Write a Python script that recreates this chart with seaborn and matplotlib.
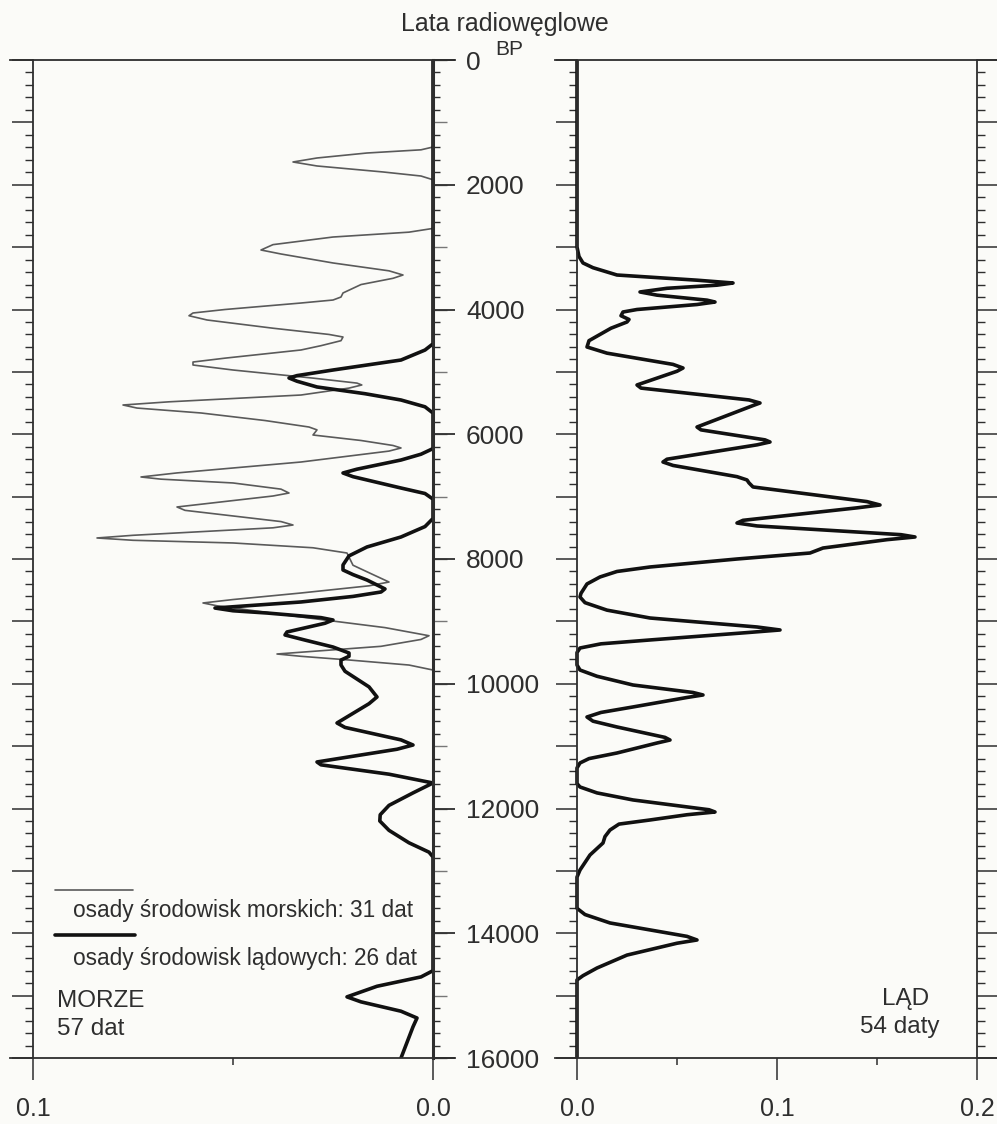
import matplotlib
matplotlib.use("Agg")
import matplotlib.pyplot as plt
from matplotlib.ticker import MultipleLocator, FixedLocator, FormatStrFormatter, NullFormatter
from matplotlib.lines import Line2D
import seaborn as sns

## Data: age in radiocarbon years BP and density value

# MORZE panel, thin curve: osady środowisk morskich (31 dat)
morskie_lata = [0, 1395, 1440, 1491, 1571, 1635, 1699, 1795, 1860, 1920,
                2700, 2760, 2838, 2960, 3046, 3110, 3254, 3380, 3447, 3500, 3600, 3735,
                3800, 3848, 3896, 4000, 4056, 4100, 4168, 4300, 4400, 4441, 4500, 4580,
                4649, 4780, 4842, 4890, 4970, 5100, 5180, 5210, 5260, 5371, 5480, 5531,
                5580, 5659, 5780, 5884, 5930, 6012, 6100, 6180, 6220, 6270, 6445, 6620,
                6685, 6720, 6781, 6880, 6942, 6990, 7166, 7220, 7400, 7455, 7500, 7620,
                7663, 7700, 7743, 7820, 7904, 8100, 8250, 8369, 8430, 8545, 8650, 8705,
                8750, 8930, 9100, 9230, 9290, 9400, 9523, 9560, 9619, 9700, 9780, 16000]
morskie_val = [0, 0, 0.003, 0.0165, 0.029, 0.035, 0.029, 0.0125, 0.003, 0,
               0, 0.006, 0.025, 0.040, 0.043, 0.038, 0.025, 0.011, 0.0075, 0.010, 0.018, 0.0225,
               0.023, 0.025, 0.033, 0.052, 0.060, 0.061, 0.0565, 0.040, 0.026, 0.0225, 0.023, 0.028,
               0.033, 0.052, 0.060, 0.060, 0.050, 0.030, 0.019, 0.0178, 0.021, 0.033, 0.066, 0.0775,
               0.074, 0.058, 0.042, 0.031, 0.029, 0.030, 0.018, 0.010, 0.008, 0.011, 0.033, 0.064,
               0.073, 0.068, 0.050, 0.038, 0.036, 0.040, 0.064, 0.062, 0.038, 0.035, 0.040, 0.075,
               0.084, 0.075, 0.050, 0.030, 0.0215, 0.020, 0.015, 0.011, 0.016, 0.033, 0.050, 0.0575,
               0.054, 0.033, 0.012, 0.001, 0.003, 0.013, 0.039, 0.033, 0.021, 0.006, 0, 0]

# MORZE panel, thick curve: osady środowisk lądowych (26 dat)
ladowe_lata = [0, 4550, 4650, 4810, 4970, 5060, 5098, 5150, 5242, 5350, 5451, 5560, 5660,
               6230, 6320, 6413, 6560, 6621, 6680, 6862, 6950, 7040,
               7350, 7480, 7647, 7807, 7950, 8096, 8176, 8250, 8337, 8480, 8529, 8600,
               8689, 8786, 8830, 8866, 8940, 8978, 9030, 9170, 9218, 9300, 9411, 9507,
               9560, 9620, 9699, 9800, 10050, 10212, 10320, 10629, 10700, 10900, 10982,
               11050, 11254, 11300, 11450, 11591, 11750, 11950, 12100, 12200, 12350,
               12550, 12700, 12777, 14600, 14700, 14850, 15020, 15100, 15250, 15359,
               15500, 15750, 16000]
ladowe_val = [0, 0, 0.002, 0.008, 0.025, 0.034, 0.036, 0.034, 0.029, 0.017, 0.008, 0.002, 0,
              0, 0.003, 0.008, 0.019, 0.0225, 0.020, 0.008, 0.002, 0,
              0, 0.002, 0.008, 0.0165, 0.021, 0.0225, 0.0225, 0.020, 0.0165, 0.012, 0.013, 0.020,
              0.033, 0.0545, 0.050, 0.0415, 0.028, 0.025, 0.027, 0.0365, 0.037, 0.032, 0.025, 0.021,
              0.021, 0.023, 0.023, 0.022, 0.016, 0.014, 0.016, 0.024, 0.022, 0.008, 0.005,
              0.009, 0.029, 0.028, 0.011, 0, 0.005, 0.011, 0.0132, 0.0133, 0.011,
              0.006, 0.001, 0, 0, 0.003, 0.014, 0.0215, 0.018, 0.008, 0.004,
              0.005, 0.0065, 0.008]

# LĄD panel (54 daty)
lad_lata = [0, 3000, 3150, 3254, 3330, 3447, 3530, 3575, 3610, 3660, 3719, 3770, 3850,
            3880, 3920, 4000, 4040, 4100, 4160, 4200, 4300, 4500, 4601, 4700, 4880, 4938,
            4990, 5210, 5260, 5450, 5499, 5540, 5884, 5930, 6090, 6124, 6170, 6400, 6445,
            6500, 6680, 6733, 6780, 6845, 7080, 7134, 7180, 7380, 7423, 7470, 7610, 7647,
            7690, 7824, 7904, 8000, 8128, 8200, 8288, 8400, 8550, 8609, 8700, 8820, 8946,
            9090, 9138, 9180, 9298, 9360, 9427, 9500, 9700, 9780, 9880, 10020, 10140,
            10180, 10220, 10372, 10460, 10533, 10600, 10693, 10860, 10902, 10950, 11110,
            11200, 11270, 11350, 11600, 11655, 11750, 11863, 12020, 12056, 12100, 12184,
            12250, 12345, 12450, 12553, 12745, 12986, 13100, 13600, 13700, 13835, 14050,
            14108, 14160, 14350, 14557, 14680, 14749, 16000]
lad_val = [0, 0, 0.001, 0.003, 0.008, 0.020, 0.060, 0.078, 0.070, 0.045, 0.0315, 0.040, 0.065,
           0.069, 0.060, 0.030, 0.023, 0.022, 0.026, 0.025, 0.017, 0.006, 0.005, 0.015, 0.048, 0.053,
           0.050, 0.030, 0.032, 0.086, 0.0915, 0.088, 0.060, 0.062, 0.094, 0.0965, 0.090, 0.045, 0.043,
           0.048, 0.080, 0.085, 0.086, 0.088, 0.145, 0.1515, 0.140, 0.083, 0.080, 0.090, 0.162, 0.169,
           0.155, 0.123, 0.1165, 0.080, 0.0365, 0.020, 0.0115, 0.005, 0.002, 0.0015, 0.004, 0.015, 0.0365,
           0.090, 0.1015, 0.085, 0.0365, 0.012, 0.0015, 0, 0, 0.0015, 0.010, 0.028, 0.058,
           0.063, 0.055, 0.028, 0.012, 0.005, 0.008, 0.020, 0.044, 0.0465, 0.040, 0.020,
           0.006, 0.0015, 0, 0, 0.0015, 0.010, 0.028, 0.066, 0.069, 0.055, 0.0365,
           0.021, 0.0165, 0.014, 0.013, 0.0065, 0.0015, 0, 0, 0.004, 0.0165, 0.055,
           0.060, 0.050, 0.025, 0.010, 0.003, 0, 0]

lewe_xticks = [0.1, 0.0]
prawe_xticks = [0.0, 0.1, 0.2]
lata_ticks = list(range(0, 16001, 2000))

## Style

sns.set_theme(style="ticks")
plt.rcParams["font.family"] = ["Liberation Sans", "DejaVu Sans"]
INK = "#2e2e2e"
BG = "#fbfbf8"
W, H = 997, 1124

def fx(px):
    return px / W

def fy(py):
    return 1 - py / H

fig = plt.figure(figsize=(W / 100, H / 100), dpi=100, facecolor=BG)

ax_m = fig.add_axes([fx(10), fy(1058), (455 - 10) / W, (1058 - 60) / H])
ax_l = fig.add_axes([fx(555), fy(1058), (997 - 555) / W, (1058 - 60) / H])

for ax in (ax_m, ax_l):
    ax.set_facecolor("none")
    ax.set_ylim(16000, 0)
    for s in ax.spines.values():
        s.set_color(INK)
        s.set_linewidth(1.3)

ax_m.set_xlim(0.1 + 23 / 4000, -22 / 4000)
ax_l.set_xlim(-22 / 2000, 0.2 + 20 / 2000)

## Curves
sns.lineplot(x=morskie_val, y=morskie_lata, ax=ax_m, sort=False, estimator=None,
             color="#5a5a5a", linewidth=1.2)
sns.lineplot(x=ladowe_val, y=ladowe_lata, ax=ax_m, sort=False, estimator=None,
             color="#111111", linewidth=2.6)
sns.lineplot(x=lad_val, y=lad_lata, ax=ax_l, sort=False, estimator=None,
             color="#111111", linewidth=2.6)
for ax in (ax_m, ax_l):
    ax.set_xlabel("")
    ax.set_ylabel("")
    for ln in ax.get_lines():
        ln.set_solid_joinstyle("round")

## Axes frames and ticks
ax_m.spines["left"].set_position(("data", 0.1))
ax_m.spines["right"].set_position(("data", 0.0))
ax_l.spines["left"].set_position(("data", 0.0))
ax_l.spines["right"].set_position(("data", 0.2))

for ax, xt in ((ax_m, lewe_xticks), (ax_l, prawe_xticks)):
    ax.xaxis.set_major_locator(FixedLocator(xt))
    ax.xaxis.set_minor_locator(MultipleLocator(0.05))
    ax.xaxis.set_major_formatter(FormatStrFormatter("%.1f"))
    ax.tick_params(axis="x", which="major", direction="out", length=15.8, width=1.1,
                   color=INK, labelcolor=INK, labelsize=18, pad=12, top=False)
    ax.tick_params(axis="x", which="minor", direction="out", length=5, width=1.1,
                   color=INK, top=False)
    ax.yaxis.set_major_locator(MultipleLocator(1000))
    ax.yaxis.set_minor_locator(MultipleLocator(200))
    ax.yaxis.set_major_formatter(NullFormatter())
    ax.tick_params(axis="y", which="major", direction="out", length=15.1, width=1.1,
                   color=INK, labelleft=False, labelright=False)
    ax.tick_params(axis="y", which="minor", direction="out", length=5.8, width=1.0,
                   color=INK)

ax_m.tick_params(axis="y", which="both", left=True, right=False)
ax_l.tick_params(axis="y", which="both", left=True, right=True)

# age scale on the zero line of the MORZE panel
x0, x1 = ax_m.get_xlim()
loc0 = (x0 - 0.0) / (x0 - x1)
sec_a = ax_m.secondary_yaxis(loc0)
sec_a.yaxis.set_major_locator(MultipleLocator(1000))
sec_a.yaxis.set_minor_locator(MultipleLocator(200))
sec_a.yaxis.set_major_formatter(NullFormatter())
sec_a.tick_params(which="major", direction="out", length=10, width=1.0, color="#777777")
sec_a.tick_params(which="minor", direction="out", length=5, width=1.0, color=INK)
sec_b = ax_m.secondary_yaxis(loc0)
sec_b.yaxis.set_major_locator(FixedLocator(lata_ticks))
sec_b.yaxis.set_minor_locator(FixedLocator([]))
sec_b.set_yticklabels([str(t) for t in lata_ticks])
sec_b.tick_params(which="major", direction="out", length=15.8, width=1.3, color=INK,
                  labelcolor=INK, labelsize=19, pad=8)
for sec in (sec_a, sec_b):
    for s in sec.spines.values():
        s.set_visible(False)
ax_m.spines["right"].set_linewidth(2.2)

## Texts
fig.text(fx(505), fy(31), "Lata radiowęglowe", ha="center", va="baseline",
         size=18, color=INK)
fig.text(fx(495), fy(55), "BP", ha="left", va="baseline", size=15, color=INK)

fig.add_artist(Line2D([fx(55), fx(133)], [fy(890), fy(890)], transform=fig.transFigure,
                      color="#5a5a5a", linewidth=1.2))
fig.add_artist(Line2D([fx(55), fx(135)], [fy(935), fy(935)], transform=fig.transFigure,
                      color="#111111", linewidth=2.6))
fig.text(fx(73), fy(917), "osady środowisk morskich: 31 dat", ha="left", va="baseline",
         size=16.3, color=INK)
fig.text(fx(73), fy(965), "osady środowisk lądowych: 26 dat", ha="left", va="baseline",
         size=16.3, color=INK)
fig.text(fx(57), fy(1007), "MORZE", ha="left", va="baseline", size=17.5, color=INK)
fig.text(fx(57), fy(1035), "57 dat", ha="left", va="baseline", size=17.5, color=INK)
fig.text(fx(906), fy(1005), "LĄD", ha="center", va="baseline", size=17.5, color=INK)
fig.text(fx(900), fy(1033), "54 daty", ha="center", va="baseline", size=17.5, color=INK)

fig.savefig("out.png", dpi=100, facecolor=BG)
